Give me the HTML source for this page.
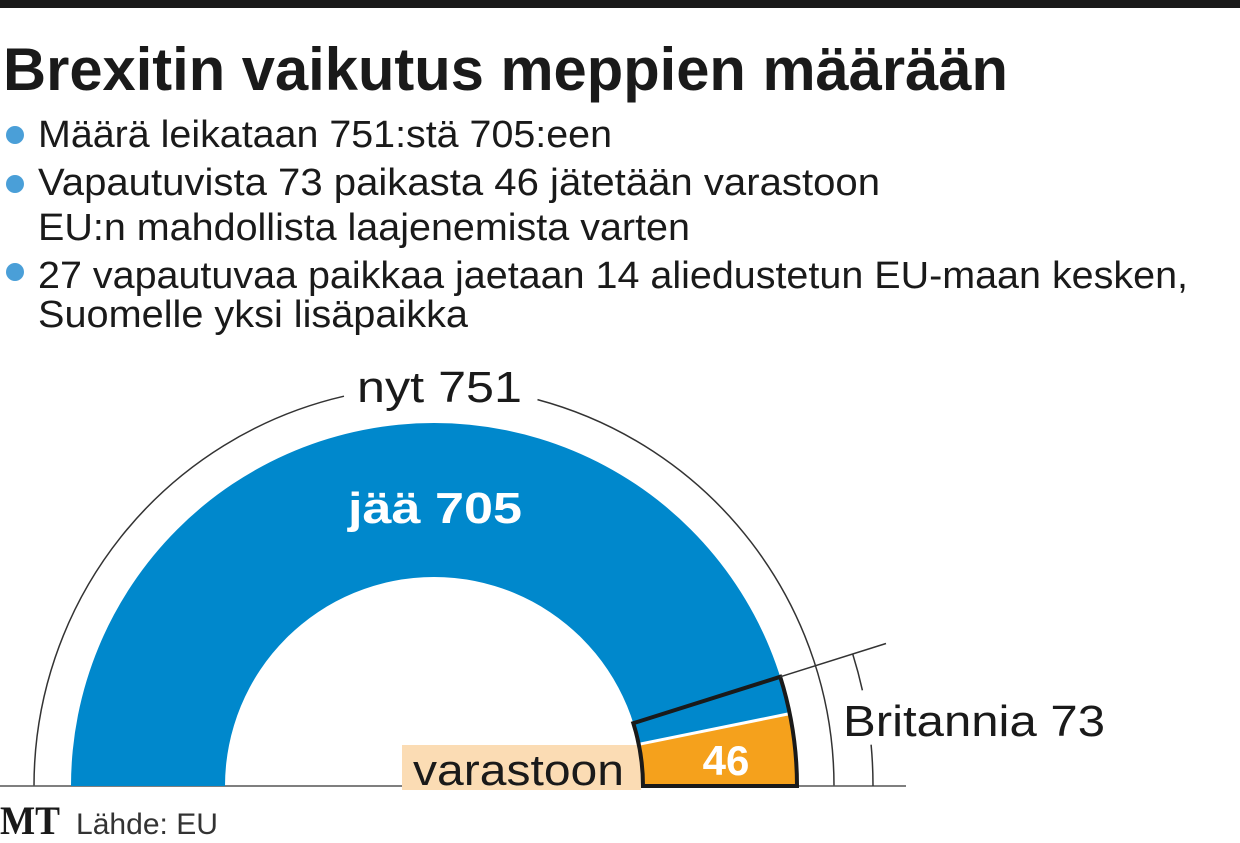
<!DOCTYPE html>
<html><head><meta charset="utf-8"><style>
html,body{margin:0;padding:0;background:#fff;}
svg{display:block;}
text{font-family:"Liberation Sans Narrow","Liberation Sans",sans-serif;}
</style></head><body>
<svg width="1240" height="843" viewBox="0 0 1240 843" xmlns="http://www.w3.org/2000/svg">
<rect x="0" y="0" width="1240" height="8" fill="#1a1a1a"/>
<text x="3" y="90" font-size="60" font-weight="bold" fill="#1a1a1a" textLength="1005" lengthAdjust="spacingAndGlyphs" style="font-family:'Liberation Sans',sans-serif">Brexitin vaikutus meppien määrään</text>
<g fill="#4a9fd8">
<circle cx="15" cy="135" r="9"/><circle cx="15" cy="184" r="9"/><circle cx="15" cy="272" r="9"/>
</g>
<g font-size="38" fill="#1a1a1a">
<text x="38" y="147" textLength="574" lengthAdjust="spacingAndGlyphs">Määrä leikataan 751:stä 705:een</text>
<text x="38" y="195" textLength="842" lengthAdjust="spacingAndGlyphs">Vapautuvista 73 paikasta 46 jätetään varastoon</text>
<text x="38" y="240" textLength="652" lengthAdjust="spacingAndGlyphs">EU:n mahdollista laajenemista varten</text>
<text x="38" y="288" textLength="1150" lengthAdjust="spacingAndGlyphs">27 vapautuvaa paikkaa jaetaan 14 aliedustetun EU-maan kesken,</text>
<text x="38" y="327" textLength="430" lengthAdjust="spacingAndGlyphs">Suomelle yksi lisäpaikka</text>
</g>
<!-- thin outer arc -->
<path d="M34 786 A400 400 0 0 1 344 396.2" fill="none" stroke="#333" stroke-width="1.5"/>
<path d="M537.5 399.6 A400 400 0 0 1 834 786" fill="none" stroke="#333" stroke-width="1.5"/>
<!-- baseline -->
<line x1="0" y1="786" x2="906" y2="786" stroke="#555" stroke-width="1.5"/>
<!-- blue donut -->
<path d="M71 786 A363 363 0 0 1 797 786 L643 786 A209 209 0 0 0 225 786 Z" fill="#0088cc"/>
<!-- orange -->
<path d="M643 786 L797 786 A363 363 0 0 0 789.7 713.6 L638.8 744.3 A209 209 0 0 1 643 786 Z" fill="#f5a11c"/>
<line x1="638.8" y1="744.3" x2="789.7" y2="713.6" stroke="#fff" stroke-width="3"/>
<!-- peach label -->
<rect x="402" y="745" width="239" height="45" fill="#fbdcb4"/>
<text x="413" y="785" font-size="44" fill="#1a1a1a" textLength="211" lengthAdjust="spacingAndGlyphs" style="font-family:'Liberation Sans',sans-serif">varastoon</text>
<!-- box -->
<path d="M643 786 L797 786 A363 363 0 0 0 780.2 676.8 L633.3 723.2 A209 209 0 0 1 643 786 Z" fill="none" stroke="#1a1a1a" stroke-width="4" stroke-linejoin="miter"/>
<text x="726" y="775" font-size="42" font-weight="bold" fill="#fff" text-anchor="middle" style="font-family:'Liberation Sans',sans-serif">46</text>
<!-- tick + dimension arc -->
<line x1="780.2" y1="676.8" x2="886" y2="643.5" stroke="#333" stroke-width="1.5"/>
<path d="M873 786 A439 439 0 0 0 871.1 744.7" fill="none" stroke="#333" stroke-width="1.5"/>
<path d="M862.4 690.3 A439 439 0 0 0 852.7 654" fill="none" stroke="#333" stroke-width="1.5"/>
<text x="843" y="736" font-size="44" fill="#1a1a1a" textLength="262" lengthAdjust="spacingAndGlyphs" style="font-family:'Liberation Sans',sans-serif">Britannia 73</text>
<text x="357" y="402" font-size="44" fill="#1a1a1a" textLength="165" lengthAdjust="spacingAndGlyphs" style="font-family:'Liberation Sans',sans-serif">nyt 751</text>
<text x="348" y="523" font-size="44" font-weight="bold" fill="#fff" textLength="174" lengthAdjust="spacingAndGlyphs" style="font-family:'Liberation Sans',sans-serif">jää 705</text>
<text x="0" y="834" font-size="40" font-weight="bold" fill="#1a1a1a" textLength="60" lengthAdjust="spacingAndGlyphs" style="font-family:'Liberation Serif',serif">MT</text>
<text x="76" y="834" font-size="30" fill="#333" textLength="142" lengthAdjust="spacingAndGlyphs">Lähde: EU</text>
</svg>
</body></html>
